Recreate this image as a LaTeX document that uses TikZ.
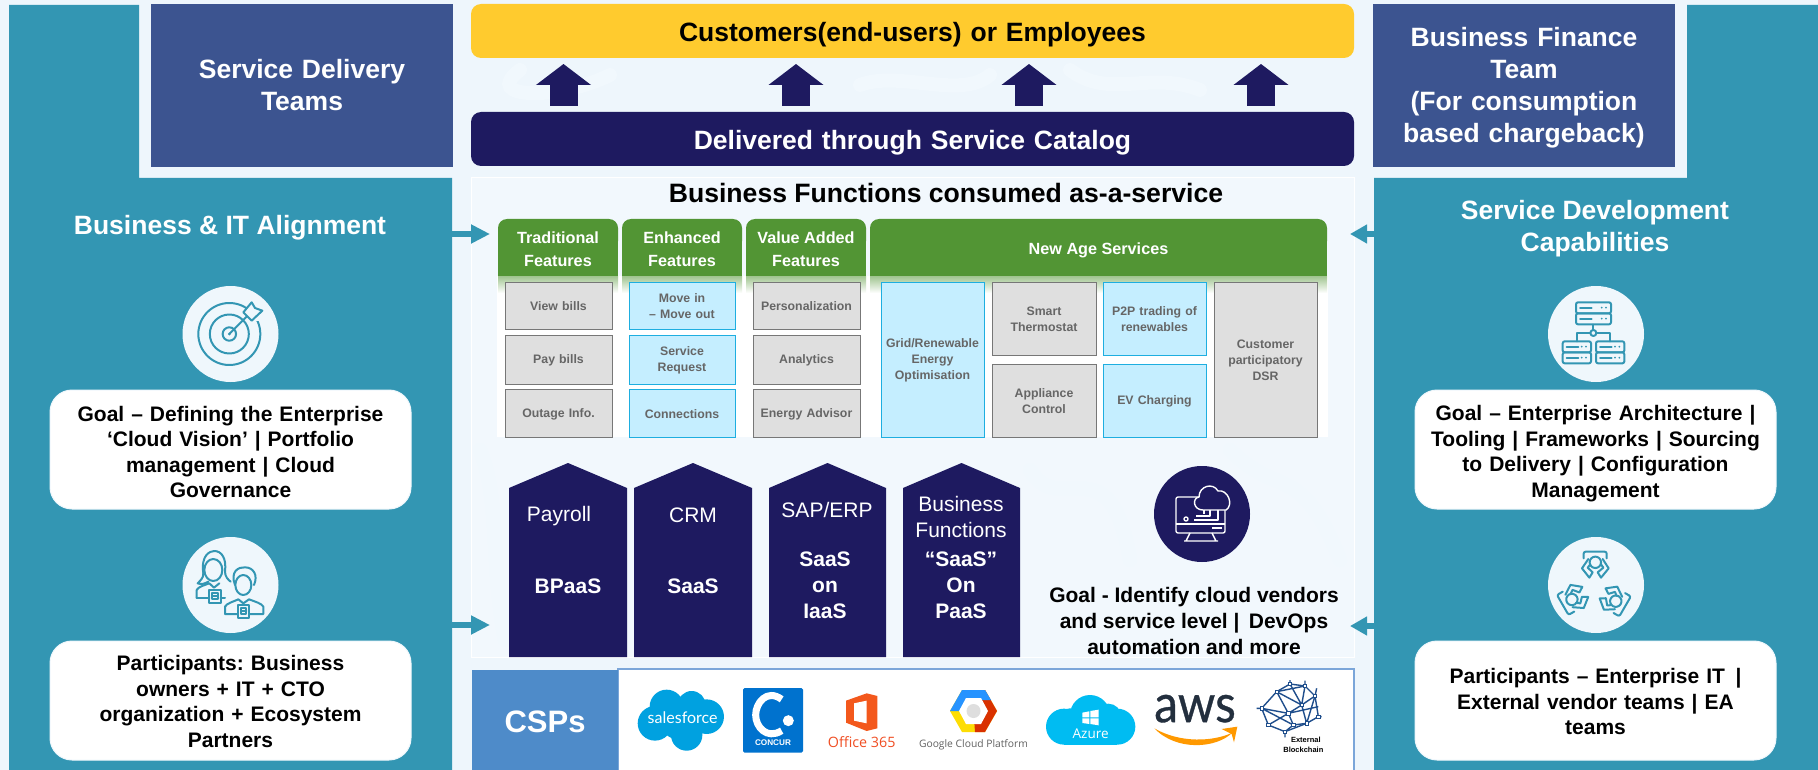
\documentclass[tikz,border=0pt]{standalone}
\usepackage{fontspec}
\setmainfont{Liberation Sans}
\newfontfamily\opensans{Open Sans}
\newfontfamily\lato{Lato}
\newfontfamily\latoheavy[FakeBold=0.7]{Lato}
\usetikzlibrary{arrows.meta,calc}
\definecolor{pagebg}{HTML}{EEF6FC}
\definecolor{panelbg}{HTML}{F2F8FD}
\definecolor{swirl}{HTML}{F1F8FD}
\definecolor{teal}{HTML}{3396B3}
\definecolor{teambox}{HTML}{3C5490}
\definecolor{navy}{HTML}{1E1A60}
\definecolor{amber}{HTML}{FFCB2E}
\definecolor{leaf}{HTML}{529534}
\definecolor{greyfill}{HTML}{DFDFDF}
\definecolor{greyline}{HTML}{777777}
\definecolor{bluefill}{HTML}{C5EEFF}
\definecolor{blueline}{HTML}{1EAEE0}
\definecolor{boxtext}{HTML}{666666}
\definecolor{cspblue}{HTML}{4E8BC9}
\definecolor{cspline}{HTML}{7BA6D9}
\definecolor{iconbg}{HTML}{EFF7FC}
\definecolor{sfblue}{HTML}{00A1E0}
\definecolor{azureblue}{HTML}{00BCF2}
\definecolor{concurblue}{HTML}{0072CE}
\definecolor{officered}{HTML}{F04E23}
\definecolor{awsdark}{HTML}{232F3E}
\definecolor{awsorange}{HTML}{FF9900}
\definecolor{chainblue}{HTML}{1F4E8C}
\tikzset{
 x=1pt,y=-1pt,
 every node/.style={inner sep=0pt,outer sep=0pt,align=center},
 big/.style={font=\fontsize{26.5}{32}\selectfont\bfseries},
 bigw/.style={big,text=white},
 gbox/.style={draw=greyline,fill=greyfill,line width=1pt,text=boxtext,font=\fontsize{12.3}{16}\selectfont\bfseries},
 bbox/.style={draw=blueline,fill=bluefill,line width=1pt,text=boxtext,font=\fontsize{12.3}{16}\selectfont\bfseries},
 headtext/.style={text=white,font=\fontsize{16.2}{23}\selectfont\bfseries},
 bandbox/.style={rounded corners=10pt},
 whitecard/.style={fill=white,draw=iconbg,line width=1pt,rounded corners=22pt,font=\fontsize{21}{25.6}\selectfont\bfseries},
 housetext/.style={text=white,font=\fontsize{21}{26}\selectfont},
 housebold/.style={text=white,font=\fontsize{21}{26}\selectfont\bfseries},
 house/.style={fill=navy},
 uparrow/.style={draw=navy,line width=28pt,-{Triangle[length=21pt,width=54pt]}},
 sidearrow/.style={draw=teal,line width=6pt,-{Triangle[length=19pt,width=18pt]}},
 iconline/.style={draw=teal,line width=2pt,line join=round,line cap=round},
 crop/.style={x=.33333pt,y=-.33333pt},
}
\newcommand{\bx}[8][1]{%
 \pgfmathsetmacro{\bw}{#6-#4}\pgfmathsetmacro{\bh}{#7-#5}%
 \pgfmathsetmacro{\bcx}{(#6+#4)/2}\pgfmathsetmacro{\bcy}{(#7+#5)/2}%
 \pgfmathsetmacro{\bty}{\bcy+#1}%
 \node[#3,minimum width=\bw pt,minimum height=\bh pt] (#2) at (\bcx,\bcy) {};
 \node[#3,fill=none,draw=none,text width=\bw pt] (#2t) at (\bcx,\bty) {#8};}
\newcommand{\hdr}[5]{%
 \fill[leaf,rounded corners=9pt] (#2,219) rectangle (#3,250);
 \fill[leaf] (#2,235) rectangle (#3,276);
 \shade[top color=leaf!55!white,bottom color=white] (#2,276) rectangle (#3,293);
 \pgfmathsetmacro{\bcx}{(#2+#3)/2}\node[headtext] (#1) at (\bcx,#4) {#5};}
\newcommand{\hs}[4]{%
 \fill[house] (#2,657) -- (#2,488) -- (#4,463) -- (#3,488) -- (#3,657) -- cycle;}
\begin{document}
\frenchspacing
\begin{tikzpicture}
\useasboundingbox (0,0) rectangle (1818,770);
\fill[pagebg] (0,0) rectangle (1818,770);
% teal side panels
\fill[teal] (9,5) -- (139,5) -- (139,178) -- (452,178) -- (452,770) -- (9,770) -- cycle;
\fill[teal] (1818,5) -- (1687,5) -- (1687,178) -- (1374,178) -- (1374,770) -- (1818,770) -- cycle;
% centre panel
\fill[panelbg] (471,178) rectangle (1354,657);
\draw[white,line width=1pt] (471,178) rectangle (1354,657);
\begin{scope}[swirl,line width=14pt,line cap=round]
 \draw (520,70) .. controls (480,100) and (560,100) .. (610,75);
 \draw (1070,70) .. controls (1110,100) and (1150,70) .. (1200,90);
 \draw (860,85) .. controls (900,70) and (960,100) .. (990,75);
 \draw (1030,470) .. controls (1060,520) and (1110,440) .. (1130,560);
 \draw (1230,450) .. controls (1280,500) and (1300,460) .. (1340,560);
 \draw (480,450) .. controls (500,500) and (490,560) .. (505,640);
\end{scope}
% top team boxes
\bx[0]{sdt}{fill=teambox,bigw}{151}{4}{453}{167}{Service Delivery\\Teams}
\bx[2]{bft}{fill=teambox,bigw}{1373}{4}{1675}{167}{Business Finance\\Team\\(For consumption\\based chargeback)}
% yellow and navy bands
\bx[3.5]{customers}{fill=amber,bandbox,big}{471}{4}{1354}{58}{Customers(end-users) or Employees}
\bx[3.5]{catalog}{fill=navy,bandbox,bigw}{471}{112}{1354}{166}{Delivered through Service Catalog}
% up arrows
\foreach \ax/\an in {563.5/a,796/b,1029/c,1261/d}{
 \coordinate (cat\an) at (\ax,106);
 \coordinate (cus\an) at (\ax,64);
 \draw[uparrow] (cat\an) -- (cus\an);
}
% title
\node[font=\fontsize{26.6}{30}\selectfont\bfseries] (bftitle) at (946,193) {Business Functions consumed as-a-service};
% white area and headers
\fill[white] (497,276) rectangle (1328,437);
\hdr{h1}{498}{618}{249}{Traditional\\Features}
\hdr{h2}{622}{742}{249}{Enhanced\\Features}
\hdr{h3}{746}{866}{249}{Value Added\\Features}
\hdr{h4}{870}{1327}{250}{New Age Services}
% feature boxes
\bx{b11}{gbox}{505}{282}{612}{329}{View bills}
\bx{b12}{gbox}{505}{335}{612}{384}{Pay bills}
\bx{b13}{gbox}{505}{389}{612}{437}{Outage Info.}
\bx{b21}{bbox}{629}{282}{735}{329}{Move in\\– Move out}
\bx{b22}{bbox}{629}{335}{735}{384}{Service\\Request}
\bx{b23}{bbox}{629}{389}{735}{437}{Connections}
\bx{b31}{gbox}{753}{282}{860}{329}{Personalization}
\bx{b32}{gbox}{753}{335}{860}{384}{Analytics}
\bx{b33}{gbox}{753}{389}{860}{437}{Energy Advisor}
\bx{n1}{bbox}{881}{282}{984}{437}{Grid/Renewable\\Energy\\Optimisation}
\bx{n2}{gbox}{992}{282}{1096}{355}{Smart\\Thermostat}
\bx{n3}{gbox}{992}{364}{1096}{437}{Appliance\\Control}
\bx{n4}{bbox}{1103}{282}{1206}{355}{P2P trading of\\renewables}
\bx{n5}{bbox}{1103}{364}{1206}{437}{EV Charging}
\bx{n6}{gbox}{1214}{282}{1317}{437}{Customer\\participatory\\DSR}
% houses
\hs{p1}{509}{627}{568}
\hs{p2}{634}{752}{693}
\hs{p3}{769}{886}{827.5}
\hs{p4}{903}{1020}{961.5}
\node[housetext] (t1a) at (559,516) {Payroll};
\node[housebold] (t1b) at (568,586) {BPaaS};
\node[housetext] (t2a) at (693,515) {CRM};
\node[housebold] (t2b) at (693,586) {SaaS};
\node[housetext] (t3a) at (827,510) {SAP/ERP};
\node[housebold,font=\fontsize{21}{26.2}\selectfont\bfseries] (t3b) at (825,585) {SaaS\\on\\IaaS};
\node[housetext] (t4a) at (961,517) {Business\\Functions};
\node[housebold,font=\fontsize{21}{26.2}\selectfont\bfseries] (t4b) at (961,585) {“SaaS”\\On\\PaaS};
% goal centre
\fill[navy] (1202,514) circle[radius=48pt];
\begin{scope}[line width=1.4pt,line join=round]
 \draw[white,rounded corners=2pt] (1176,497) rectangle (1225,533);
 \draw[white] (1176,524) -- (1225,524);
 \draw[white] (1184,541) -- (1218,541) (1190,533) -- (1186,541) (1212,533) -- (1216,541);
 \draw[white,fill=navy] (1203,510) .. controls (1193,510) and (1192,498) .. (1199,497)
   .. controls (1199,486) and (1213,482) .. (1218,491)
   .. controls (1228,489) and (1234,505) .. (1226,510) -- cycle;
 \draw[white] (1210,510) -- (1210,516) -- (1196,516) (1204,510) -- (1204,514) (1218,510) -- (1218,520) -- (1194,520);
 \draw[white] (1186,519) circle[radius=2pt];
 \draw[white] (1212,528) -- (1222,528);
\end{scope}
\node[font=\fontsize{21}{26}\selectfont\bfseries] (goalc) at (1194,621) {Goal - Identify cloud vendors\\and service level \textbar{}\, DevOps\\automation and more};
% left and right column
\node[bigw] (lhead) at (230,228) {Business \& IT Alignment};
\node[bigw] (rhead) at (1595,229) {Service Development\\Capabilities};
\bx[2.5]{lgoal}{whitecard}{50}{390}{411}{509}{Goal – Defining the Enterprise\\‘Cloud Vision’ \textbar{} Portfolio\\management \textbar{} Cloud\\Governance}
\bx[1]{lpart}{whitecard}{50}{641}{411}{760}{Participants: Business\\owners + IT + CTO\\organization + Ecosystem\\Partners}
\bx[4]{rgoal}{whitecard}{1415}{390}{1776}{509}{Goal – Enterprise Architecture \textbar{}\\Tooling \textbar{} Frameworks \textbar{} Sourcing\\to Delivery \textbar{} Configuration\\Management}
\bx[1]{rpart}{whitecard}{1415}{641}{1776}{760}{Participants – Enterprise IT\, \textbar{}\\External vendor teams \textbar{} EA\\teams}
\fill[iconbg] (230.5,334) circle[radius=48pt];
\fill[iconbg] (230.5,585) circle[radius=48pt];
\fill[iconbg] (1596,334) circle[radius=48pt];
\fill[iconbg] (1596,585) circle[radius=48pt];
% target icon
\begin{scope}[shift={(180,284)},crop]
 \draw[iconline] (148,150) circle[radius=31pt];
 \draw[iconline] (148,150) circle[radius=19.5pt];
 \draw[iconline] (148,150) circle[radius=6.7pt];
 \fill[iconbg] (205,60) rectangle (250,110);
 \fill[teal] (148,150) circle[radius=1.5pt];
 \draw[iconline] (148,150) -- (200,98);
 \draw[iconline,fill=iconbg] (190,85) -- (215,55) -- (225,72) -- (247,80) -- (215,110) -- cycle;
\end{scope}
% people icon
\begin{scope}[shift={(180,535)},crop]
 \draw[iconline] (100,105) ellipse[x radius=9pt,y radius=11pt];
 \draw[iconline] (70,115) .. controls (62,60) and (90,48) .. (103,48) .. controls (125,48) and (140,70) .. (135,110) .. controls (135,125) and (145,135) .. (152,140);
 \draw[iconline] (70,115) .. controls (70,130) and (62,135) .. (53,145) .. controls (65,150) and (75,145) .. (85,140);
 \draw[iconline] (50,188) -- (50,165) .. controls (55,155) and (75,150) .. (88,145) -- (102,158) -- (118,145);
 \draw[iconline] (50,188) -- (88,188) (122,188) -- (135,188);
 \draw[iconline] (88,165) rectangle (122,203);
 \draw[iconline] (96,175) rectangle (114,193) (96,184) -- (114,184);
 \draw[iconline,fill=iconbg] (190,150) ellipse[x radius=8pt,y radius=10pt];
 \draw[iconline] (165,150) .. controls (150,110) and (175,95) .. (195,97) .. controls (220,97) and (235,120) .. (222,150);
 \draw[iconline,fill=iconbg] (135,237) -- (135,215) .. controls (140,205) and (160,200) .. (175,193) -- (190,205) -- (207,193) .. controls (225,200) and (245,205) .. (250,215) -- (250,237) -- cycle;
 \draw[iconline,fill=iconbg] (175,210) rectangle (207,248);
 \draw[iconline] (183,220) rectangle (199,238) (183,229) -- (199,229);
\end{scope}
% server icon
\begin{scope}[shift={(1546,284)},crop]
 \foreach \sx/\sy/\sw in {90/55/105,90/88/105,50/172/85,50/205/85,150/172/85,150/205/85}{
  \draw[iconline,rounded corners=2pt] (\sx,\sy) rectangle ++(\sw,33);
  \draw[iconline] ($(\sx,\sy)+(12,16)$) -- ++(35,0);
  \fill[teal] ($(\sx,\sy)+(\sw,16)+(-28,0)$) circle[radius=1pt];
  \fill[teal] ($(\sx,\sy)+(\sw,16)+(-15,0)$) circle[radius=1pt];
 }
 \draw[iconline] (142,122) -- (142,138);
 \draw[iconline] (92,172) -- (92,147) -- (133,147) (151,147) -- (192,147) -- (192,172);
 \draw[iconline] (142,147) circle[radius=3pt];
\end{scope}
% team icon
\begin{scope}[shift={(1546,535)},crop]
 \foreach \ang in {0,120,240}{
  \begin{scope}[rotate around={\ang:(145,158)}]
   \draw[iconline] (148,82) circle[radius=5.7pt];
   \draw[iconline,rounded corners=2pt] (113,70) -- (113,50) -- (182,50) -- (182,70);
   \draw[iconline] (127,72) -- (108,100) -- (130,128) -- (140,112) -- (125,98) -- (133,88);
   \draw[iconline] (170,72) -- (188,100) -- (165,128) -- (155,112) -- (172,98) -- (165,88);
  \end{scope}
 }
\end{scope}
% side arrows
\coordinate (la1) at (452,234); \coordinate (la2) at (490,234);
\coordinate (lb1) at (452,625); \coordinate (lb2) at (490,625);
\coordinate (ra1) at (1374,234); \coordinate (ra2) at (1350,234);
\coordinate (rb1) at (1374,626); \coordinate (rb2) at (1350,626);
\draw[sidearrow] (la1) -- (la2);
\draw[sidearrow] (lb1) -- (lb2);
\draw[sidearrow,-{Triangle[length=17pt,width=18pt]}] (ra1) -- (ra2);
\draw[sidearrow,-{Triangle[length=17pt,width=18pt]}] (rb1) -- (rb2);
% CSP strip
\fill[white] (618,669) rectangle (1354,770);
\draw[cspline,line width=1.2pt] (618,770) -- (618,669) -- (1354,669) -- (1354,770);
\bx[2]{csp}{fill=cspblue,text=white,font=\fontsize{31}{36}\selectfont\bfseries}{472}{670}{618}{770}{CSPs}
% salesforce
\begin{scope}[shift={(470,660)},crop]
 \fill[sfblue] (590,140) circle[radius=17pt] (665,135) circle[radius=14pt] (710,170) circle[radius=17.3pt] (650,225) circle[radius=15.7pt] (555,190) circle[radius=17.3pt] (630,180) circle[radius=20pt];
 \node[text=white,font=\lato\fontsize{16}{18}\selectfont] (sf) at (638,172) {salesforce};
 % concur
 \fill[concurblue,rounded corners=1.5pt] (819,84) rectangle (999,278);
 \draw[white,line width=7pt] (935,118) .. controls (890,85) and (857,130) .. (857,165) .. controls (857,200) and (890,240) .. (935,212);
 \fill[white] (955,182) circle[radius=5.5pt];
 \node[text=white,font=\fontsize{8.2}{10}\selectfont\bfseries] (concur) at (909,247) {CONCUR};
 % office
 \fill[officered!80!orange] (1128,122) -- (1190,100) -- (1222,108) -- (1222,205) -- (1190,213) -- (1128,188) -- cycle;
 \fill[white] (1152,130) -- (1190,122) -- (1190,190) -- (1152,182) -- cycle;
 \node[text=officered,font=\opensans\fontsize{14.3}{18}\selectfont] (office) at (1175,245) {Office 365};
\end{scope}
% google
\fill[yellow!80!orange] (950,711) -- (962,690) -- (985,690) -- (997,711) -- (985,732) -- (962,732) -- cycle;
\fill[red!55!orange!85!black] (985,690) -- (997,711) -- (985,732) -- (975,732) -- (973.5,711) -- cycle;
\fill[blue!50!cyan!85!white] (950,711) -- (962,690) -- (985,690) -- (991,700) -- (973.5,700) -- (960,711) -- cycle;
\fill[white] (959,711) -- (966,698) -- (981,698) -- (988,711) -- (981,724) -- (966,724) -- cycle;
\fill[black!13] (973.5,711) circle[radius=7pt];
\node[text=black!62,font=\opensans\fontsize{10.3}{14}\selectfont] (google) at (973.5,745) {Google Cloud Platform};
% azure and aws, blockchain
\begin{scope}[shift={(960,660)},crop]
 \fill[azureblue] (390,165) circle[radius=20pt] (312,200) circle[radius=18pt] (472,200) circle[radius=18pt] (445,170) circle[radius=13pt] (330,175) circle[radius=10pt];
 \fill[azureblue] (312,200) rectangle (472,254);
 \fill[white] (367,158) -- (388,154) -- (388,172) -- (367,172) -- cycle (391,153) -- (416,149) -- (416,172) -- (391,172) -- cycle
   (367,175) -- (388,175) -- (388,192) -- (367,189) -- cycle (391,175) -- (416,175) -- (416,196) -- (391,192) -- cycle;
 \node[text=white,font=\opensans\fontsize{13.5}{16}\selectfont] (azure) at (392,220) {Azure};
 \node[text=awsdark,font=\latoheavy\fontsize{53}{55}\selectfont] (aws) at (705,146) {\scalebox{.9}[1]{aws}};
 \fill[awsorange] (583,205) .. controls (650,275) and (770,265) .. (817,218) .. controls (760,245) and (660,250) .. (583,205) -- cycle;
 \fill[awsorange] (785,207) -- (832,200) -- (822,247) -- (815,222) -- cycle;
 \begin{scope}[chainblue,line width=1.4pt]
  \draw (950,95) -- (990,72) -- (1035,78) -- (1065,108) -- (1075,170) -- (1040,190) -- (975,215) -- (925,195) -- (905,145) -- cycle;
  \draw (950,95) -- (985,160) -- (925,195) (985,160) -- (1025,135) -- (1065,108) (1025,135) -- (1035,78) (1025,135) -- (1040,190) (985,160) -- (1000,195) -- (975,215) (1000,195) -- (1040,190) (905,145) -- (985,160) -- (1075,140) (990,60) -- (990,72) (1035,62) -- (1035,78) (1070,85) -- (1065,108) (1085,170) -- (1075,170) (890,145) -- (905,145) (975,215) -- (975,232) (950,95) -- (1035,78) (990,72) -- (1025,135) (950,95) -- (1025,135) (905,145) -- (1000,195) (1065,108) -- (1040,190);
  \foreach \qx/\qy in {950/95,990/72,1035/78,1065/108,1075/170,1040/190,975/215,925/195,905/145,985/160,1025/135,1000/195}{
   \pgfmathsetmacro{\qa}{\qx-5}\pgfmathsetmacro{\qb}{\qy-5}\pgfmathsetmacro{\qc}{\qx+5}\pgfmathsetmacro{\qd}{\qy+5}
   \fill[white,draw=chainblue,line width=.6pt] (\qa,\qb) rectangle (\qc,\qd);
  }
 \end{scope}
 \node[font=\fontsize{7.5}{9.5}\selectfont\bfseries] (chain) at (1030,255) {\hspace*{5pt}External\\Blockchain};
\end{scope}
\end{tikzpicture}
\end{document}
